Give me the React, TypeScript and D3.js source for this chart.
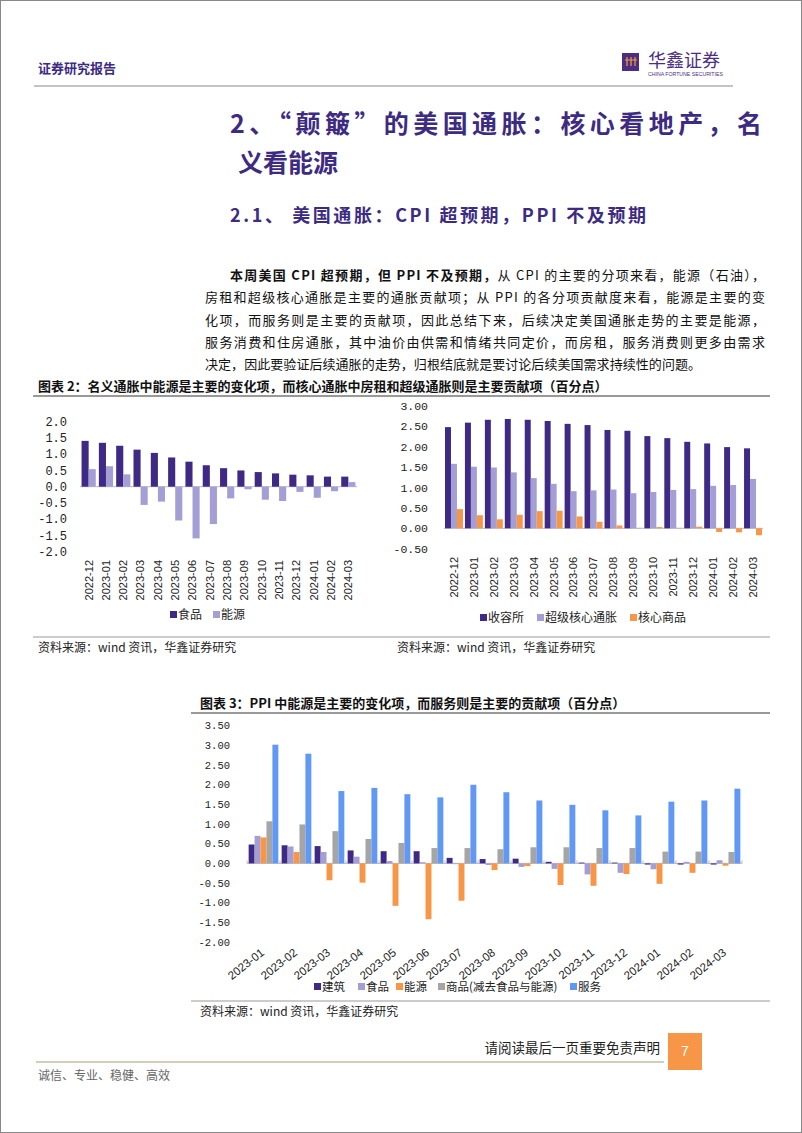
import React from "react";
import * as d3 from "d3";

// ---- data (percentage-point contributions) ----
const cpiMonths = [
  "2022-12", "2023-01", "2023-02", "2023-03", "2023-04", "2023-05", "2023-06", "2023-07",
  "2023-08", "2023-09", "2023-10", "2023-11", "2023-12", "2024-01", "2024-02", "2024-03",
];
const foodContrib = [1.41, 1.35, 1.26, 1.14, 1.04, 0.9, 0.77, 0.66, 0.57, 0.5, 0.45, 0.41, 0.37, 0.35, 0.31, 0.31];
const energyContrib = [0.54, 0.63, 0.38, -0.56, -0.46, -1.04, -1.59, -1.15, -0.36, -0.08, -0.4, -0.44, -0.16, -0.34, -0.14, 0.14];

const shelterContrib = [2.48, 2.59, 2.66, 2.68, 2.66, 2.63, 2.56, 2.53, 2.41, 2.39, 2.26, 2.21, 2.12, 2.08, 1.99, 1.96];
const superCoreContrib = [1.58, 1.51, 1.49, 1.37, 1.23, 1.09, 0.91, 0.93, 0.95, 0.86, 0.89, 0.94, 0.96, 1.04, 1.06, 1.21];
const coreGoodsContrib = [0.47, 0.32, 0.22, 0.33, 0.42, 0.43, 0.29, 0.16, 0.07, 0.01, 0.03, 0.01, 0.04, -0.09, -0.1, -0.17];

const ppiMonths = [
  "2023-01", "2023-02", "2023-03", "2023-04", "2023-05", "2023-06", "2023-07", "2023-08",
  "2023-09", "2023-10", "2023-11", "2023-12", "2024-01", "2024-02", "2024-03",
];
const ppiConstruction = [0.48, 0.46, 0.44, 0.33, 0.31, 0.31, 0.14, 0.11, 0.12, 0.04, 0.02, 0.02, -0.03, -0.03, -0.03];
const ppiFood = [0.7, 0.43, 0.29, 0.17, 0.06, 0.03, -0.02, -0.04, -0.09, -0.14, -0.28, -0.24, -0.15, 0.04, 0.08];
const ppiEnergy = [0.66, 0.29, -0.43, -0.49, -1.08, -1.42, -0.95, -0.17, -0.07, -0.55, -0.57, -0.27, -0.52, -0.24, -0.06];
const ppiCoreGoods = [1.07, 0.99, 0.82, 0.62, 0.52, 0.39, 0.39, 0.36, 0.41, 0.41, 0.39, 0.39, 0.3, 0.3, 0.29];
const ppiServices = [3.02, 2.79, 1.84, 1.92, 1.76, 1.68, 2.0, 1.81, 1.6, 1.49, 1.35, 1.22, 1.57, 1.6, 1.9];

const leftTicks = [2, 1.5, 1, 0.5, 0, -0.5, -1, -1.5, -2];
const rightTicks = [3, 2.5, 2, 1.5, 1, 0.5, 0, -0.5];
const ppiTicks = [3.5, 3, 2.5, 2, 1.5, 1, 0.5, 0, -0.5, -1, -1.5, -2];

const PURPLE = "#3e2a85";
const LAVENDER = "#a39ed3";
const ORANGE = "#f79646";
const GRAY = "#a5a5a5";
const BLUE = "#6198f4";
const HEAD = "#3d2b82";

const CJK = "'Noto Sans CJK SC', 'Noto Sans', sans-serif";
const MONO = "'Liberation Mono', 'DejaVu Sans Mono', monospace";
const SANS = "'Liberation Sans', Arial, sans-serif";

type Series = { key: string; values: number[]; color: string };

function Bars({ cats, series, x0, x1, y, gap, ticks = false }: {
  cats: string[]; series: Series[]; x0: number; x1: number; y: d3.ScaleLinear<number, number>; gap: number; ticks?: boolean;
}) {
  const outer = d3.scaleBand<string>().domain(cats).range([x0, x1]);
  const bw = outer.bandwidth();
  const inner = d3.scaleBand<string>().domain(series.map((s) => s.key)).range([(bw * gap) / 2, bw - (bw * gap) / 2]);
  return (
    <g>
      <line x1={x0} x2={x1} y1={y(0)} y2={y(0)} stroke="#b8b8c8" strokeWidth={1} />
      {ticks &&
        d3.range(cats.length + 1).map((i) => (
          <line key={i} x1={x0 + i * bw} x2={x0 + i * bw} y1={y(0)} y2={y(0) - 3} stroke="#b8b8c8" />
        ))}
      {series.map((s) =>
        s.values.map((v, i) => (
          <rect
            key={s.key + i}
            x={(outer(cats[i]) ?? 0) + (inner(s.key) ?? 0)}
            width={inner.bandwidth()}
            y={Math.min(y(v), y(0))}
            height={Math.abs(y(v) - y(0))}
            fill={s.color}
          />
        ))
      )}
    </g>
  );
}

function Legend({ items, x, y, size }: { items: { label: string; color: string; x: number }[]; x: number; y: number; size: number }) {
  return (
    <g fontFamily={CJK} fontSize={size} fill="#222">
      {items.map((it) => (
        <g key={it.label}>
          <rect x={x + it.x} y={y - 4} width={7} height={7} fill={it.color} />
          <text x={x + it.x + 8} y={y} dy="0.35em">{it.label}</text>
        </g>
      ))}
    </g>
  );
}

export default function App() {
  // chart 2 left
  const yL = d3.scaleLinear().domain([-2, 2]).range([551.7, 421.7]);
  const xL = d3.scaleBand<string>().domain(cpiMonths).range([80, 357]);
  // chart 2 right
  const yR = d3.scaleLinear().domain([-0.5, 3]).range([548.7, 405.9]);
  const xR = d3.scaleBand<string>().domain(cpiMonths).range([444, 763]);
  // chart 3
  const yP = d3.scaleLinear().domain([-2, 3.5]).range([942, 725.8]);
  const xP = d3.scaleBand<string>().domain(ppiMonths).range([247, 742]);

  const para = [
    { x: 230, bold: "本周美国 CPI 超预期，但 PPI 不及预期，", rest: "从 CPI 的主要的分项来看，能源（石油），", len: 535 },
    { x: 205, bold: "", rest: "房租和超级核心通胀是主要的通胀贡献项；从 PPI 的各分项贡献度来看，能源是主要的变", len: 560 },
    { x: 205, bold: "", rest: "化项，而服务则是主要的贡献项，因此总结下来，后续决定美国通胀走势的主要是能源，", len: 560 },
    { x: 205, bold: "", rest: "服务消费和住房通胀，其中油价由供需和情绪共同定价，而房租，服务消费则更多由需求", len: 560 },
    { x: 205, bold: "", rest: "决定，因此要验证后续通胀的走势，归根结底就是要讨论后续美国需求持续性的问题。", len: 496 },
  ];

  return (
    <div style={{ position: "absolute", left: 0, top: 0 }}>
      <svg width={802} height={1133} style={{ display: "block", background: "#fff" }}>
        <rect x={0.5} y={0.5} width={801} height={1132} fill="none" stroke="#888" />

        {/* header */}
        <text x={38} y={73} fontFamily={CJK} fontSize={13} fontWeight="bold" fill={HEAD}>证券研究报告</text>
        <line x1={34} x2={733} y1={86} y2={86} stroke="#888" strokeWidth={1} />
        <rect x={622} y={53} width={17} height={18} fill="#4b2e83" />
        <path d="M625 60 L637 60 M627 57 L627 66 M631 57 L631 66 M635 57 L635 66" stroke="#f5a03a" strokeWidth={1.2} fill="none" />
        <text x={648} y={67} fontFamily={CJK} fontSize={18} fill="#4b2e83">华鑫证券</text>
        <text x={648} y={76} fontFamily={SANS} fontSize={5.2} fill="#4b2e83">CHINA FORTUNE SECURITIES</text>

        {/* headings */}
        <text x={230} y={133} fontFamily={CJK} fontSize={25} fontWeight="bold" fill={HEAD} textLength={532} lengthAdjust="spacing">
          2、“颠簸”的美国通胀：核心看地产，名
        </text>
        <text x={238} y={172} fontFamily={CJK} fontSize={25} fontWeight="bold" fill={HEAD}>义看能源</text>
        <text x={230} y={222} fontFamily={CJK} fontSize={18} fontWeight="bold" fill={HEAD} textLength={416} lengthAdjust="spacing">
          2.1、 美国通胀：CPI 超预期，PPI 不及预期
        </text>

        {/* paragraph */}
        <g fontFamily={CJK} fontSize={13} fill="#111">
          {para.map((p, i) => (
            <text key={i} x={p.x} y={280 + i * 22.3} textLength={p.len} lengthAdjust="spacing">
              {p.bold && <tspan fontWeight="bold">{p.bold}</tspan>}
              <tspan>{p.rest}</tspan>
            </text>
          ))}
        </g>

        {/* chart 2 */}
        <text x={38} y={391} fontFamily={CJK} fontSize={13} fontWeight="bold" fill="#111">
          图表 2：名义通胀中能源是主要的变化项，而核心通胀中房租和超级通胀则是主要贡献项（百分点）
        </text>
        <line x1={33} x2={770} y1={396} y2={396} stroke="#999" strokeWidth={2} />

        <g fontFamily={MONO} fontSize={12} fill="#222" textAnchor="end">
          {leftTicks.map((t) => (
            <text key={t} x={67} y={yL(t)} dy="0.35em">{t.toFixed(1)}</text>
          ))}
        </g>
        <Bars
          cats={cpiMonths}
          series={[
            { key: "food", values: foodContrib, color: PURPLE },
            { key: "energy", values: energyContrib, color: LAVENDER },
          ]}
          x0={80} x1={357} y={yL} gap={0.18}
        />
        <g fontFamily={SANS} fontSize={11} fill="#222" textAnchor="end">
          {cpiMonths.map((m) => (
            <text key={m} transform={`translate(${(xL(m) ?? 0) + xL.bandwidth() / 2},560) rotate(-90)`} dy="0.35em">{m}</text>
          ))}
        </g>
        <Legend
          x={170} y={615} size={12}
          items={[
            { label: "食品", color: PURPLE, x: 0 },
            { label: "能源", color: LAVENDER, x: 43 },
          ]}
        />

        <g fontFamily={MONO} fontSize={11.5} fill="#222" textAnchor="end">
          {rightTicks.map((t) => (
            <text key={t} x={428} y={yR(t)} dy="0.35em">{t.toFixed(2)}</text>
          ))}
        </g>
        <Bars
          cats={cpiMonths}
          series={[
            { key: "shelter", values: shelterContrib, color: PURPLE },
            { key: "super", values: superCoreContrib, color: LAVENDER },
            { key: "goods", values: coreGoodsContrib, color: ORANGE },
          ]}
          x0={444} x1={763} y={yR} gap={0.1}
        />
        <g fontFamily={SANS} fontSize={11} fill="#222" textAnchor="end">
          {cpiMonths.map((m) => (
            <text key={m} transform={`translate(${(xR(m) ?? 0) + xR.bandwidth() / 2},557) rotate(-90)`} dy="0.35em">{m}</text>
          ))}
        </g>
        <Legend
          x={480} y={618} size={12}
          items={[
            { label: "收容所", color: PURPLE, x: 0 },
            { label: "超级核心通胀", color: LAVENDER, x: 57 },
            { label: "核心商品", color: ORANGE, x: 150 },
          ]}
        />

        <line x1={33} x2={770} y1={637} y2={637} stroke="#999" strokeWidth={1} />
        <text x={38} y={652} fontFamily={CJK} fontSize={12} fill="#222">资料来源：wind 资讯，华鑫证券研究</text>
        <text x={397} y={652} fontFamily={CJK} fontSize={12} fill="#222">资料来源：wind 资讯，华鑫证券研究</text>

        {/* chart 3 */}
        <text x={200} y={708} fontFamily={CJK} fontSize={13} fontWeight="bold" fill="#111">
          图表 3：PPI 中能源是主要的变化项，而服务则是主要的贡献项（百分点）
        </text>
        <line x1={191} x2={770} y1={713} y2={713} stroke="#999" strokeWidth={2} />
        <g fontFamily={MONO} fontSize={10.5} fill="#222" textAnchor="end">
          {ppiTicks.map((t) => (
            <text key={t} x={230} y={yP(t)} dy="0.35em">{t.toFixed(2)}</text>
          ))}
        </g>
        <Bars
          cats={ppiMonths}
          series={[
            { key: "construction", values: ppiConstruction, color: PURPLE },
            { key: "food", values: ppiFood, color: LAVENDER },
            { key: "energy", values: ppiEnergy, color: ORANGE },
            { key: "goods", values: ppiCoreGoods, color: GRAY },
            { key: "services", values: ppiServices, color: BLUE },
          ]}
          x0={247} x1={742} y={yP} gap={0.1} ticks
        />
        <g fontFamily={SANS} fontSize={11.5} fill="#222" textAnchor="end">
          {ppiMonths.map((m) => (
            <text key={m} transform={`translate(${(xP(m) ?? 0) + xP.bandwidth() / 2 - 1},951) rotate(-38)`} dy="0.35em">{m}</text>
          ))}
        </g>
        <Legend
          x={314} y={987} size={11.5}
          items={[
            { label: "建筑", color: PURPLE, x: 0 },
            { label: "食品", color: LAVENDER, x: 44 },
            { label: "能源", color: ORANGE, x: 82 },
            { label: "商品(减去食品与能源)", color: GRAY, x: 124 },
            { label: "服务", color: BLUE, x: 256 },
          ]}
        />
        <line x1={191} x2={770} y1={1001} y2={1001} stroke="#999" strokeWidth={1} />
        <text x={200} y={1016} fontFamily={CJK} fontSize={12} fill="#222">资料来源：wind 资讯，华鑫证券研究</text>

        {/* footer */}
        <text x={660} y={1053} fontFamily={CJK} fontSize={13.5} fill="#222" textAnchor="end">请阅读最后一页重要免责声明</text>
        <line x1={36} x2={664} y1={1062} y2={1062} stroke="#a59d74" strokeWidth={1.2} />
        <rect x={668} y={1033} width={34} height={37} fill={ORANGE} />
        <text x={685} y={1051} fontFamily={SANS} fontSize={14} fill="#fff" textAnchor="middle" dy="0.35em">7</text>
        <text x={38} y={1080} fontFamily={CJK} fontSize={12} fill="#666">诚信、专业、稳健、高效</text>
      </svg>
    </div>
  );
}
